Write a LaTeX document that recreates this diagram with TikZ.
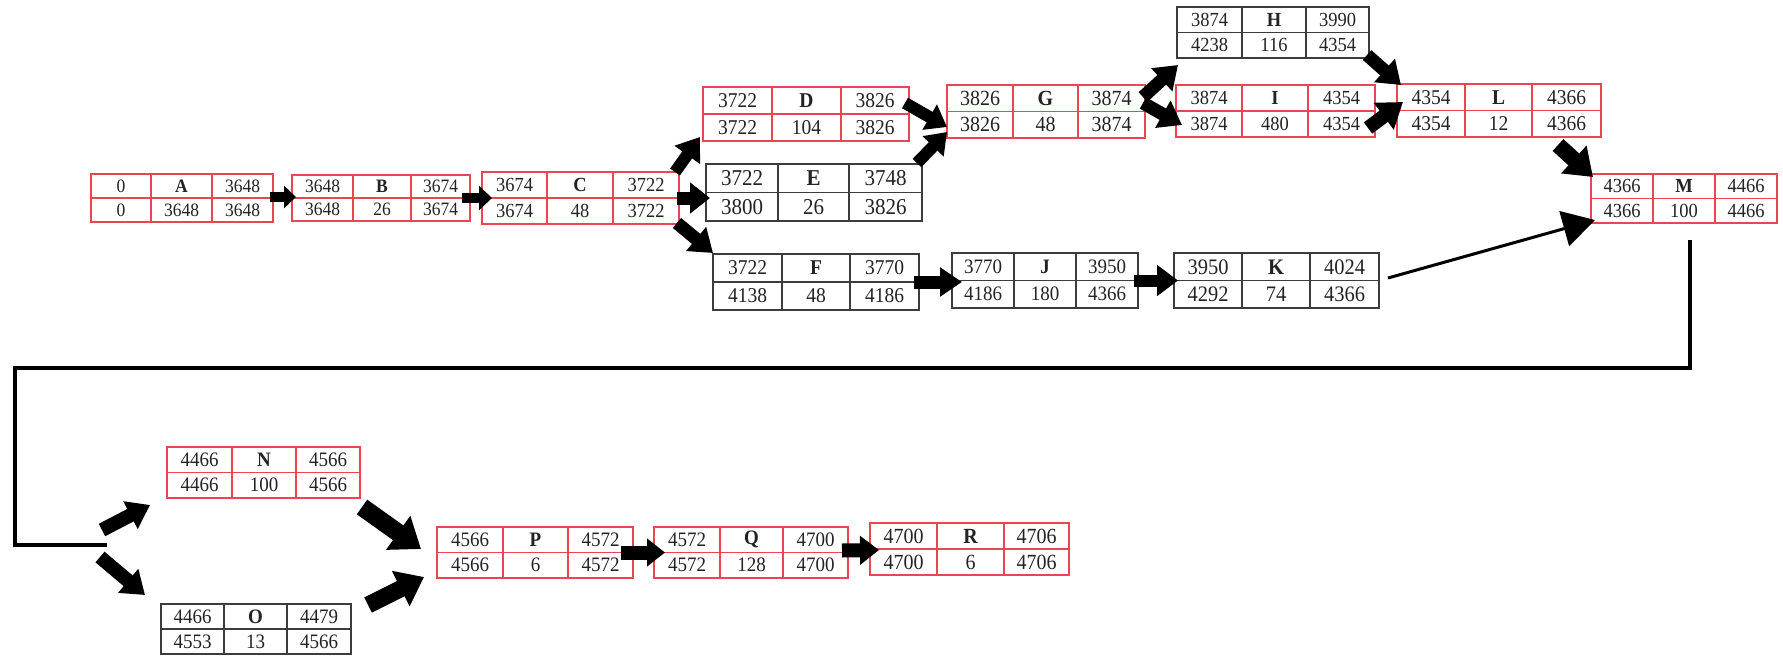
\documentclass[tikz,border=0pt]{standalone}
\usepackage{fontspec}
\setmainfont{Liberation Serif}
\usetikzlibrary{arrows.meta}
\definecolor{boxred}{RGB}{232,70,80}
\definecolor{boxgray}{RGB}{60,60,60}
\definecolor{txt}{RGB}{35,35,35}
\tikzset{
  cell/.style={inner sep=0pt, text=txt},
  blk/.style n args={3}{draw=black, line width=#1pt, arrows={-Triangle[length=#2pt,width=#3pt]}},
  conn/.style={draw=black, line width=3.5pt, line join=miter},
}
% #1 name, #2 colour, #3 left, #4 top, #5 right, #6 bottom, #7 first divider, #8 second divider
\newcommand\tbox[8]{%
  \node[draw=#2, line width=1.3pt, inner sep=0pt, outer sep=0pt,
        minimum width={(#5-#3)*1pt}, minimum height={(#6-#4)*1pt}, anchor=north west] (#1) at (#3,#4) {};
  \draw[#2, line width=1.1pt] (#7,#4) -- (#7,#6) (#8,#4) -- (#8,#6)
       (#3,{(#4+#6)/2}) -- (#5,{(#4+#6)/2});
  \coordinate (#1-1) at ({(#3+#7)/2},{#4+(#6-#4)/4});
  \coordinate (#1-2) at ({(#7+#8)/2},{#4+(#6-#4)/4});
  \coordinate (#1-3) at ({(#8+#5)/2},{#4+(#6-#4)/4});
  \coordinate (#1-4) at ({(#3+#7)/2},{#4+3*(#6-#4)/4});
  \coordinate (#1-5) at ({(#7+#8)/2},{#4+3*(#6-#4)/4});
  \coordinate (#1-6) at ({(#8+#5)/2},{#4+3*(#6-#4)/4});
}
\newcommand\stretched[1]{\scalebox{1}[1.08]{#1}}
% #1 name, #2 font size, #3..#8 texts
\newcommand\tboxtext[8]{%
  \node[cell, font=\fontsize{#2}{#2}\selectfont] (#1-t1) at (#1-1) {\stretched{#3}};
  \node[cell, font=\fontsize{#2}{#2}\selectfont\bfseries] (#1-t2) at (#1-2) {\stretched{#4}};
  \node[cell, font=\fontsize{#2}{#2}\selectfont] (#1-t3) at (#1-3) {\stretched{#5}};
  \node[cell, font=\fontsize{#2}{#2}\selectfont] (#1-t4) at (#1-4) {\stretched{#6}};
  \node[cell, font=\fontsize{#2}{#2}\selectfont] (#1-t5) at (#1-5) {\stretched{#7}};
  \node[cell, font=\fontsize{#2}{#2}\selectfont] (#1-t6) at (#1-6) {\stretched{#8}};
}
\begin{document}
\begin{tikzpicture}[x=1pt,y=-1pt]
\fill[white] (0,0) rectangle (1783,656);
\useasboundingbox (0,0) rectangle (1783,656);

\tbox{A}{boxred}{91}{174}{273}{222}{151}{212}
\tboxtext{A}{17.5}{0}{A}{3648}{0}{3648}{3648}
\tbox{B}{boxred}{292}{175}{470}{221}{353}{411}
\tboxtext{B}{17.5}{3648}{B}{3674}{3648}{26}{3674}
\tbox{C}{boxred}{482}{172}{679}{224}{547}{613}
\tboxtext{C}{18.5}{3674}{C}{3722}{3674}{48}{3722}
\tbox{D}{boxred}{703}{87}{909}{141}{772}{841}
\tboxtext{D}{19.5}{3722}{D}{3826}{3722}{104}{3826}
\tbox{E}{boxgray}{706}{164}{922}{221}{778}{849}
\tboxtext{E}{21}{3722}{E}{3748}{3800}{26}{3826}
\tbox{F}{boxgray}{713}{254}{919}{310}{782}{850}
\tboxtext{F}{19.5}{3722}{F}{3770}{4138}{48}{4186}
\tbox{G}{boxred}{947}{85}{1145}{138}{1013}{1078}
\tboxtext{G}{20}{3826}{G}{3874}{3826}{48}{3874}
\tbox{H}{boxgray}{1177}{7}{1369}{58}{1242}{1306}
\tboxtext{H}{18.5}{3874}{H}{3990}{4238}{116}{4354}
\tbox{I}{boxred}{1176}{85}{1375}{137}{1242}{1308}
\tboxtext{I}{18.5}{3874}{I}{4354}{3874}{480}{4354}
\tbox{J}{boxgray}{952}{253}{1138}{308}{1014}{1076}
\tboxtext{J}{19}{3770}{J}{3950}{4186}{180}{4366}
\tbox{K}{boxgray}{1174}{253}{1379}{308}{1242}{1310}
\tboxtext{K}{20.5}{3950}{K}{4024}{4292}{74}{4366}
\tbox{L}{boxred}{1397}{84}{1601}{137}{1465}{1532}
\tboxtext{L}{19.5}{4354}{L}{4366}{4354}{12}{4366}
\tbox{M}{boxred}{1591}{174}{1777}{223}{1653}{1715}
\tboxtext{M}{18.5}{4366}{M}{4466}{4366}{100}{4466}
\tbox{N}{boxred}{167}{447}{360}{498}{232}{296}
\tboxtext{N}{19}{4466}{N}{4566}{4466}{100}{4566}
\tbox{O}{boxgray}{161}{604}{351}{654}{224}{287}
\tboxtext{O}{19}{4466}{O}{4479}{4553}{13}{4566}
\tbox{P}{boxred}{437}{527}{633}{578}{503}{568}
\tboxtext{P}{19}{4566}{P}{4572}{4566}{6}{4572}
\tbox{Q}{boxred}{654}{527}{848}{578}{720}{783}
\tboxtext{Q}{19}{4572}{Q}{4700}{4572}{128}{4700}
\tbox{R}{boxred}{870}{523}{1069}{575}{937}{1004}
\tboxtext{R}{20}{4700}{R}{4706}{4700}{6}{4706}

\coordinate (turnL) at (15,368);
\coordinate (junc) at (107,545);

% arrows
\draw[blk={10}{12}{22}] ([shift={(-3,-1)}]A.east) -- ([shift={(4,-1)}]B.west);
\draw[blk={10}{13}{24}] ([shift={(-8,0)}]B.east) -- ([shift={(10,0)}]C.west);
\draw[blk={13}{20}{30}] ([shift={(-2,0)}]C.east) -- ([shift={(4,5.5)}]E.west);
\draw[blk={12}{22}{30}] ([shift={(-4,0)}]C.north east) -- ([shift={(-3,-4)}]D.south west);
\draw[blk={13}{22}{30}] ([shift={(-2,-1)}]C.south east) -- ([shift={(0,-1)}]F.north west);
\draw[blk={12}{20}{28}] ([shift={(-4,-11)}]D.east) -- ([shift={(0,15.5)}]G.west);
\draw[blk={12}{20}{28}] ([shift={(-5,-1)}]E.north east) -- ([shift={(0,-6)}]G.south west);
\draw[blk={13}{22}{30}] ([shift={(-2,12)}]G.north east) -- ([shift={(1,7)}]H.south west);
\draw[blk={13}{22}{30}] ([shift={(-2,-8.5)}]G.east) -- ([shift={(6,14)}]I.west);
\draw[blk={13}{22}{30}] ([shift={(-2,-3)}]H.south east) -- ([shift={(4,1)}]L.north west);
\draw[blk={14}{24}{32}] ([shift={(-7,17)}]I.east) -- ([shift={(6,-8.5)}]L.west);
\draw[blk={16}{26}{36}] ([shift={(-43,8)}]L.south east) -- ([shift={(2,3)}]M.north west);
\draw[blk={3}{32}{36}] ([shift={(9,-2.5)}]K.east) -- ([shift={(4,-3)}]M.south west);
\draw[blk={13}{22}{28}] ([shift={(-5,0)}]F.east) -- ([shift={(10,1.5)}]J.west);
\draw[blk={12}{21}{30}] ([shift={(-4,0)}]J.east) -- ([shift={(4,0)}]K.west);

\draw[conn] ([shift={(6,17)}]M.south) |- (turnL) |- (junc);

\draw[blk={14}{22}{30}] ([shift={(-5,-15)}]junc) -- ([shift={(-17,7)}]N.south west);
\draw[blk={14}{22}{30}] ([shift={(-7,12)}]junc) -- ([shift={(-16,-9)}]O.north west);
\draw[blk={18}{28}{40}] ([shift={(2,9)}]N.south east) -- ([shift={(-16,-3.5)}]P.west);
\draw[blk={17}{26}{38}] ([shift={(17,1)}]O.north east) -- ([shift={(-13,-1)}]P.south west);
\draw[blk={14}{18}{27}] ([shift={(-12,0)}]P.east) -- ([shift={(11,0)}]Q.west);
\draw[blk={14}{19}{28}] ([shift={(-6,-2)}]Q.east) -- ([shift={(9,1)}]R.west);
\end{tikzpicture}
\end{document}
